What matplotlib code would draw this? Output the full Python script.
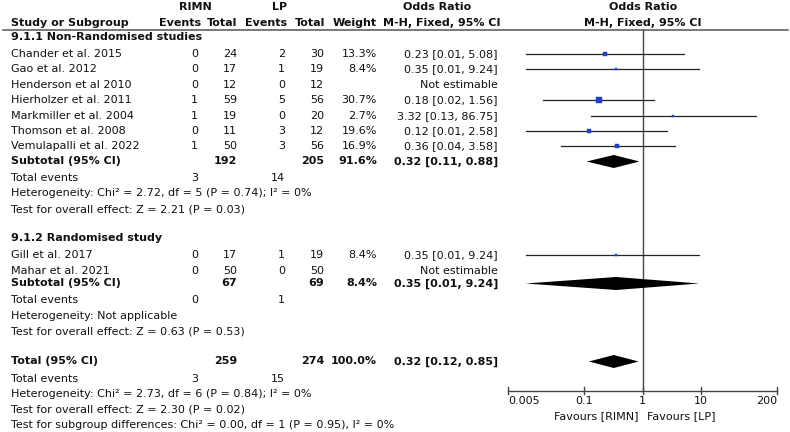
import numpy as np
import matplotlib
matplotlib.use("Agg")
from matplotlib import pyplot as plt

# ---- data ----
studies1 = ["Chander et al. 2015", "Gao et al. 2012", "Henderson et al 2010",
            "Hierholzer et al. 2011", "Markmiller et al. 2004", "Thomson et al. 2008",
            "Vemulapalli et al. 2022"]
rimn_ev1 = [0, 0, 0, 1, 1, 0, 1]
rimn_tot1 = [24, 17, 12, 59, 19, 11, 50]
lp_ev1 = [2, 1, 0, 5, 0, 3, 3]
lp_tot1 = [30, 19, 12, 56, 20, 12, 56]
weight1 = [13.3, 8.4, None, 30.7, 2.7, 19.6, 16.9]
or1 = [0.23, 0.35, None, 0.18, 3.32, 0.12, 0.36]
lo1 = [0.01, 0.01, None, 0.02, 0.13, 0.01, 0.04]
hi1 = [5.08, 9.24, None, 1.56, 86.75, 2.58, 3.58]

studies2 = ["Gill et al. 2017", "Mahar et al. 2021"]
rimn_ev2 = [0, 0]
rimn_tot2 = [17, 50]
lp_ev2 = [1, 0]
lp_tot2 = [19, 50]
weight2 = [8.4, None]
or2 = [0.35, None]
lo2 = [0.01, None]
hi2 = [9.24, None]

# subtotal / total: rimn total, lp total, weight, or, lo, hi, rimn events, lp events
sub1 = [192, 205, 91.6, 0.32, 0.11, 0.88, 3, 14]
sub2 = [67, 69, 8.4, 0.35, 0.01, 9.24, 0, 1]
total = [259, 274, 100.0, 0.32, 0.12, 0.85, 3, 15]

het1 = "Heterogeneity: Chi² = 2.72, df = 5 (P = 0.74); I² = 0%"
eff1 = "Test for overall effect: Z = 2.21 (P = 0.03)"
het2 = "Heterogeneity: Not applicable"
eff2 = "Test for overall effect: Z = 0.63 (P = 0.53)"
het_t = "Heterogeneity: Chi² = 2.73, df = 6 (P = 0.84); I² = 0%"
eff_t = "Test for overall effect: Z = 2.30 (P = 0.02)"
subgrp = "Test for subgroup differences: Chi² = 0.00, df = 1 (P = 0.95), I² = 0%"

ticks = [0.005, 0.1, 1, 10, 200]
tick_labels = ["0.005", "0.1", "1", "10", "200"]

# ---- layout (pixel rows) ----
W, H = 790, 432
y_g1 = 37
y_s1 = [54, 69.4, 84.8, 100.2, 115.6, 131, 146.4]
y_sub1, y_ev1, y_het1, y_eff1 = 161.5, 178, 193.5, 209.5
y_g2 = 238
y_s2 = [255, 270.5]
y_sub2, y_ev2, y_het2, y_eff2 = 283.5, 300, 316, 332
y_tot, y_evt, y_hett, y_efft, y_sg = 361.5, 379, 394, 410, 425.5
y_axis = 390.7

FS = 8.05
BLUE = "#1d3fd4"
c_rev, c_rtot, c_lev, c_ltot, c_w, c_or = 198, 237, 285, 324, 377, 498

fig = plt.figure(figsize=(W / 100, H / 100), dpi=100)
ax = fig.add_axes([0, 0, 1, 1])
ax.set_xlim(0, W)
ax.set_ylim(H, 0)
ax.axis("off")

def t(x, y, s, ha="left", bold=False):
    ax.text(x, y, s, ha=ha, va="center", fontsize=FS,
            fontweight="bold" if bold else "normal", color="#111111")

# headers
t(195, 6.5, "RIMN", "center", True)
t(280, 6.5, "LP", "center", True)
t(437, 6.5, "Odds Ratio", "center", True)
t(642.7, 6.5, "Odds Ratio", "center", True)
t(11, 22.5, "Study or Subgroup", bold=True)
t(201, 22.5, "Events", "right", True)
t(237, 22.5, "Total", "right", True)
t(287, 22.5, "Events", "right", True)
t(325, 22.5, "Total", "right", True)
t(377, 22.5, "Weight", "right", True)
t(442, 22.5, "M-H, Fixed, 95% CI", "center", True)
t(642.7, 22.5, "M-H, Fixed, 95% CI", "center", True)
ax.plot([3, 788], [30, 30], color="#555555", lw=1.1)

def study_rows(names, rev, rtot, lev, ltot, wts, ors, los, his, ys):
    for i, y in enumerate(ys):
        t(11, y, names[i])
        t(c_rev, y, str(rev[i]), "right")
        t(c_rtot, y, str(rtot[i]), "right")
        t(c_lev, y, str(lev[i]), "right")
        t(c_ltot, y, str(ltot[i]), "right")
        if ors[i] is None:
            t(c_or, y, "Not estimable", "right")
        else:
            t(c_w, y, "%.1f%%" % wts[i], "right")
            t(c_or, y, "%.2f [%.2f, %.2f]" % (ors[i], los[i], his[i]), "right")

def summary_rows(label, vals, y, ye):
    t(11, y, label, bold=True)
    t(c_rtot, y, str(vals[0]), "right", True)
    t(c_ltot, y, str(vals[1]), "right", True)
    t(c_w, y, "%.1f%%" % vals[2], "right", True)
    t(c_or, y, "%.2f [%.2f, %.2f]" % (vals[3], vals[4], vals[5]), "right", True)
    t(11, ye, "Total events")
    t(c_rev, ye, str(vals[6]), "right")
    t(c_lev, ye, str(vals[7]), "right")

t(11, y_g1, "9.1.1 Non-Randomised studies", bold=True)
study_rows(studies1, rimn_ev1, rimn_tot1, lp_ev1, lp_tot1, weight1, or1, lo1, hi1, y_s1)
summary_rows("Subtotal (95% CI)", sub1, y_sub1, y_ev1)
t(11, y_het1, het1)
t(11, y_eff1, eff1)

t(11, y_g2, "9.1.2 Randomised study", bold=True)
study_rows(studies2, rimn_ev2, rimn_tot2, lp_ev2, lp_tot2, weight2, or2, lo2, hi2, y_s2)
summary_rows("Subtotal (95% CI)", sub2, y_sub2, y_ev2)
t(11, y_het2, het2)
t(11, y_eff2, eff2)

summary_rows("Total (95% CI)", total, y_tot, y_evt)
t(11, y_hett, het_t)
t(11, y_efft, eff_t)
t(11, y_sg, subgrp)

# ---- forest panel ----
x0 = 508.1
x1 = 777.3
fx = fig.add_axes([x0 / W, 0, (x1 - x0) / W, 1])
fx.set_xscale("log")
fx.set_xlim(ticks[0], ticks[-1])
fx.set_ylim(H, 0)
fx.axis("off")
fx.patch.set_alpha(0)

fx.plot([1, 1], [30, y_axis], color="#444444", lw=1.0, zorder=1)

def forest(ors, los, his, wts, ys):
    for i, y in enumerate(ys):
        if ors[i] is None:
            continue
        fx.plot([los[i], his[i]], [y, y], color="#222222", lw=0.9, zorder=2)
        side_px = max(2.4, 1.0 + 0.19 * wts[i])
        fx.plot(ors[i], y, marker="s", ms=side_px * 0.72, color=BLUE,
                mec=BLUE, mew=0.3, zorder=3, clip_on=False)

def diamond(vals, y):
    est, lo, hi = vals[3], vals[4], vals[5]
    fx.fill([lo, est, hi, est], [y, y - 6.5, y, y + 6.5], color="black", lw=0, zorder=3)

forest(or1, lo1, hi1, weight1, y_s1)
forest(or2, lo2, hi2, weight2, y_s2)
diamond(sub1, y_sub1)
diamond(sub2, y_sub2)
diamond(total, y_tot)

# axis
fx.plot([ticks[0], ticks[-1]], [y_axis, y_axis], color="#444444", lw=1.0, clip_on=False)
for k, (tv, tl) in enumerate(zip(ticks, tick_labels)):
    fx.plot([tv, tv], [y_axis - 3.3, y_axis + 3], color="#444444", lw=1.0, clip_on=False)
    ha = "left" if k == 0 else ("right" if k == len(ticks) - 1 else "center")
    fx.text(tv, 400.5, tl, ha=ha, va="center", fontsize=FS, color="#111111", clip_on=False)
fx.text(0.85, 416, "Favours [RIMN]", ha="right", va="center", fontsize=FS, color="#111111")
fx.text(1.17, 416, "Favours [LP]", ha="left", va="center", fontsize=FS, color="#111111")

fig.savefig("out.png", dpi=100)
